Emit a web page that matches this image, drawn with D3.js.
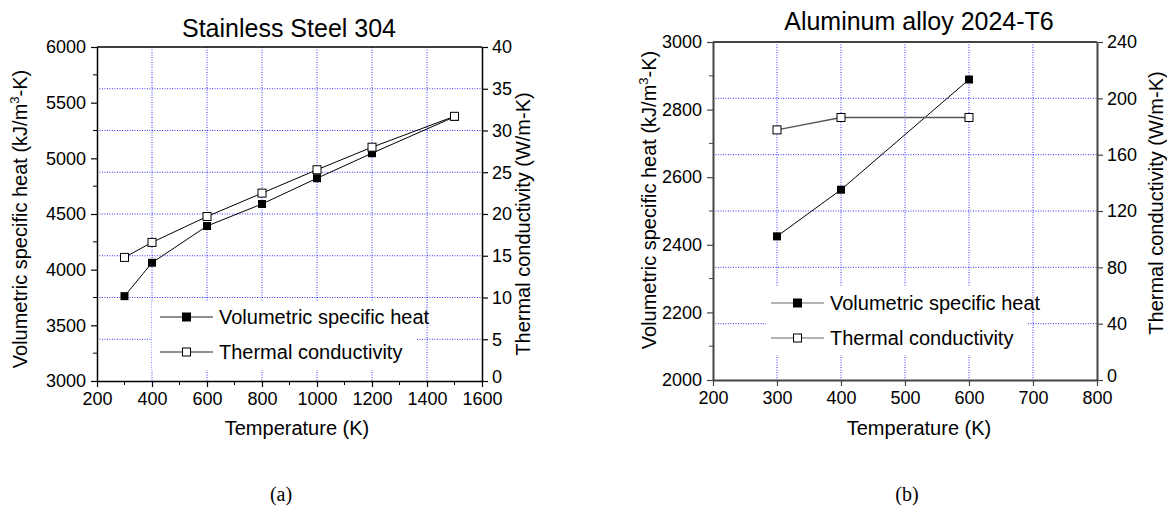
<!DOCTYPE html>
<html>
<head>
  <style>
    body {
      margin: 0;
      background: #fff;
    }
    svg text {
      font-family: "Liberation Sans", Arial, sans-serif;
      fill: #000;
    }
    .caption {
      font-family: "Liberation Serif", "Times New Roman", serif !important;
    }
  </style>
</head>
<body>
<script src="https://d3js.org/d3.v7.min.js"></script>
<svg id="fig" width="1167" height="508"></svg>
<script>
  // Panel (a): Stainless Steel 304
  const tempA = [300, 400, 600, 800, 1000, 1200, 1500];
  const heatA = [3762, 4062, 4392, 4590, 4821, 5046, 5373];
  const condA = [14.8, 16.6, 19.7, 22.5, 25.3, 28.0, 31.7];

  // Panel (b): Aluminum alloy 2024-T6
  const tempB = [300, 400, 600];
  const heatB = [2425, 2563, 2889];
  const condB = [177.6, 186.4, 186.4];

  const seriesNames = ["Volumetric specific heat", "Thermal conductivity"];

  const svg = d3.select("#fig");

  function drawPanel(p) {
    const g = svg.append("g");
    const x = d3.scaleLinear().domain(p.xDomain).range([p.left, p.right]);
    const yL = d3.scaleLinear().domain(p.yLDomain).range([p.bottom, p.top]);
    const yR = d3.scaleLinear().domain(p.yRDomain).range([p.bottom, p.top]);

    // dotted blue grid, following x ticks and right axis ticks
    const xGrid = d3.range(p.xDomain[0], p.xDomain[1] + 1, p.xStep).slice(1, -1);
    const yGrid = d3.range(p.yRDomain[0], p.yRDomain[1] + 0.001, p.yRStep).slice(1, -1);
    g.selectAll(".vgrid").data(xGrid).join("line")
      .attr("x1", d => x(d)).attr("x2", d => x(d))
      .attr("y1", p.top).attr("y2", p.bottom)
      .attr("stroke", "#0000ff").attr("stroke-width", 0.8)
      .attr("stroke-dasharray", "1,1.5");
    g.selectAll(".hgrid").data(yGrid).join("line")
      .attr("x1", p.left).attr("x2", p.right)
      .attr("y1", d => yR(d)).attr("y2", d => yR(d))
      .attr("stroke", "#0000ff").attr("stroke-width", 0.8)
      .attr("stroke-dasharray", "1,1.5");

    // legend background hides the grid
    g.append("rect")
      .attr("x", p.legend.x0).attr("y", p.legend.y0)
      .attr("width", p.legend.x1 - p.legend.x0)
      .attr("height", p.legend.y1 - p.legend.y0)
      .attr("fill", "#fff");

    // axes
    const axisColor = p.axisColor;
    const xAxis = g.append("g").attr("transform", `translate(0,${p.bottom})`)
      .call(d3.axisBottom(x).tickValues(d3.range(p.xDomain[0], p.xDomain[1] + 1, p.xStep))
        .tickSize(6).tickSizeOuter(0).tickPadding(5).tickFormat(d3.format("d")));
    if (p.xMinor) {
      xAxis.selectAll(".minor").data(d3.range(p.xDomain[0] + p.xMinor, p.xDomain[1], p.xStep))
        .join("line").attr("class", "minor")
        .attr("x1", d => x(d)).attr("x2", d => x(d)).attr("y1", 0).attr("y2", 4)
        .attr("stroke", axisColor);
    }
    const yAxisL = g.append("g").attr("transform", `translate(${p.left},0)`)
      .call(d3.axisLeft(yL).tickValues(d3.range(p.yLDomain[0], p.yLDomain[1] + 1, p.yLStep))
        .tickSize(6).tickSizeOuter(0).tickPadding(5).tickFormat(d3.format("d")));
    yAxisL.selectAll(".minor").data(d3.range(p.yLDomain[0] + p.yLStep / 2, p.yLDomain[1], p.yLStep))
      .join("line").attr("class", "minor")
      .attr("x1", 0).attr("x2", -4).attr("y1", d => yL(d)).attr("y2", d => yL(d))
      .attr("stroke", axisColor);
    const yAxisR = g.append("g").attr("transform", `translate(${p.right},0)`)
      .call(d3.axisRight(yR).tickValues(d3.range(p.yRDomain[0], p.yRDomain[1] + 0.001, p.yRStep))
        .tickSize(6).tickSizeOuter(0).tickPadding(4));
    // lowest right label sits just above the x tick labels
    yAxisR.selectAll(".tick text").filter(d => d === p.yRDomain[0]).attr("dy", "0.1em");
    g.append("line")
      .attr("x1", p.left).attr("x2", p.right).attr("y1", p.top).attr("y2", p.top)
      .attr("stroke", axisColor).attr("stroke-width", p.axisWidth);

    g.selectAll(".domain").attr("stroke", axisColor).attr("stroke-width", p.axisWidth);
    g.selectAll(".tick line").attr("stroke", axisColor).attr("stroke-width", 1.2);
    g.selectAll(".tick text").attr("font-size", 18).attr("fill", "#000");

    // series
    const heatPts = p.temps.map((t, i) => [t, p.heat[i]]);
    const condPts = p.temps.map((t, i) => [t, p.cond[i]]);
    g.append("path").datum(heatPts)
      .attr("d", d3.line().x(d => x(d[0])).y(d => yL(d[1])))
      .attr("fill", "none").attr("stroke", "#000").attr("stroke-width", 1);
    g.append("path").datum(condPts)
      .attr("d", d3.line().x(d => x(d[0])).y(d => yR(d[1])))
      .attr("fill", "none").attr("stroke", p.condLine).attr("stroke-width", p.condWidth);
    const ms = 8;
    g.selectAll(".mh").data(heatPts).join("rect")
      .attr("x", d => x(d[0]) - ms / 2).attr("y", d => yL(d[1]) - ms / 2)
      .attr("width", ms).attr("height", ms).attr("fill", "#000");
    g.selectAll(".mc").data(condPts).join("rect")
      .attr("x", d => x(d[0]) - ms / 2).attr("y", d => yR(d[1]) - ms / 2)
      .attr("width", ms).attr("height", ms)
      .attr("fill", "#fff").attr("stroke", "#000").attr("stroke-width", 1);

    // legend
    const lg = p.legend;
    seriesNames.forEach((name, i) => {
      const cy = lg.rows[i];
      g.append("line").attr("x1", lg.lineX0).attr("x2", lg.lineX1)
        .attr("y1", cy).attr("y2", cy).attr("stroke", p.legendLine).attr("stroke-width", 1.2);
      const mx = (lg.lineX0 + lg.lineX1) / 2;
      g.append("rect").attr("x", mx - ms / 2).attr("y", cy - ms / 2)
        .attr("width", ms).attr("height", ms)
        .attr("fill", i === 0 ? "#000" : "#fff")
        .attr("stroke", "#000").attr("stroke-width", 1);
      g.append("text").attr("x", lg.textX).attr("y", cy + 7)
        .attr("font-size", 20).text(name);
    });

    // titles and axis labels
    g.append("text").attr("x", p.titleX).attr("y", p.titleY)
      .attr("text-anchor", "middle").attr("font-size", 25).text(p.title);
    g.append("text").attr("x", p.xLabelX).attr("y", 435)
      .attr("text-anchor", "middle").attr("font-size", 20).text("Temperature (K)");
    const ly = g.append("text")
      .attr("transform", `translate(${p.yLabelL},${p.yLabelLc}) rotate(-90)`)
      .attr("text-anchor", "middle").attr("font-size", 20);
    ly.append("tspan").text("Volumetric specific heat (kJ/m");
    ly.append("tspan").attr("font-size", 13).attr("dy", -8).text("3");
    ly.append("tspan").attr("dy", 8).text("-K)");
    g.append("text")
      .attr("transform", `translate(${p.yLabelR},${p.yLabelRc}) rotate(-90)`)
      .attr("text-anchor", "middle").attr("font-size", 20)
      .text("Thermal conductivity (W/m-K)");

    g.append("text").attr("class", "caption").attr("x", p.capX).attr("y", 501)
      .attr("text-anchor", "middle").attr("font-size", 20).text(p.caption);
  }

  drawPanel({
    left: 97, right: 482, top: 47, bottom: 381,
    xDomain: [200, 1600], xStep: 200, xMinor: 100,
    yLDomain: [3000, 6000], yLStep: 500,
    yRDomain: [0, 40], yRStep: 5,
    temps: tempA, heat: heatA, cond: condA,
    axisColor: "#000", axisWidth: 1.5,
    condLine: "#000", condWidth: 1, legendLine: "#222",
    legend: { x0: 152, x1: 417, y0: 302, y1: 370, rows: [317, 352], lineX0: 160, lineX1: 213, textX: 219 },
    title: "Stainless Steel 304", titleX: 289, titleY: 37,
    xLabelX: 297, yLabelL: 27, yLabelLc: 219, yLabelR: 530, yLabelRc: 224,
    caption: "(a)", capX: 281
  });

  drawPanel({
    left: 713, right: 1097, top: 42, bottom: 380,
    xDomain: [200, 800], xStep: 100, xMinor: 0,
    yLDomain: [2000, 3000], yLStep: 200,
    yRDomain: [0, 240], yRStep: 40,
    temps: tempB, heat: heatB, cond: condB,
    axisColor: "#444", axisWidth: 2,
    condLine: "#555", condWidth: 1.5, legendLine: "#666",
    legend: { x0: 766, x1: 1027, y0: 287, y1: 355, rows: [303, 338], lineX0: 771, lineX1: 824, textX: 830 },
    title: "Aluminum alloy 2024-T6", titleX: 919, titleY: 30,
    xLabelX: 919, yLabelL: 656, yLabelLc: 200, yLabelR: 1163, yLabelRc: 203,
    caption: "(b)", capX: 907
  });
</script>
</body>
</html>
